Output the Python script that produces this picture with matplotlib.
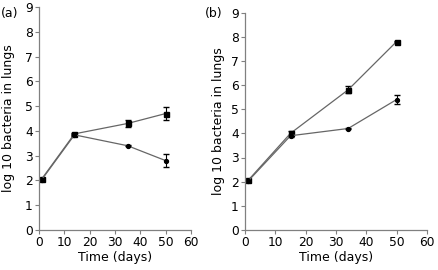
import matplotlib.pyplot as plt

plt.rcParams['font.family'] = ['DejaVu Sans']

# panel (a)
days_a = [1, 14, 35, 50]
sq_a = [2.05, 3.88, 4.3, 4.7]
sq_a_err = [0.05, 0.05, 0.15, 0.25]
ci_a = [2.02, 3.84, 3.4, 2.8]
ci_a_err = [0.05, 0.05, 0.03, 0.25]

# panel (b)
days_b = [1, 15, 34, 50]
sq_b = [2.05, 4.0, 5.8, 7.8]
sq_b_err = [0.07, 0.1, 0.15, 0.04]
ci_b = [2.02, 3.9, 4.2, 5.4]
ci_b_err = [0.05, 0.05, 0.03, 0.2]

fig = plt.figure(figsize=(4.38, 2.70), dpi=100)
W, H = 438, 270
ax_a = fig.add_axes([39 / W, 1 - 230 / H, 152 / W, 223 / H])
ax_b = fig.add_axes([245 / W, 1 - 230 / H, 182 / W, 217.5 / H])

panels = [(ax_a, days_a, sq_a, sq_a_err, ci_a, ci_a_err, -24 / 152),
          (ax_b, days_b, sq_b, sq_b_err, ci_b, ci_b_err, -20 / 182)]

for ax, d, s, se, c, ce, lx in panels:
    ax.errorbar(d, s, yerr=se, color='#666666', lw=0.9, marker='s', ms=3.6,
                mfc='black', mec='black', ecolor='black', elinewidth=0.8, capsize=2)
    ax.errorbar(d, c, yerr=ce, color='#666666', lw=0.9, marker='o', ms=2.8,
                mfc='black', mec='black', ecolor='black', elinewidth=0.8, capsize=2)
    ax.set_xlim(0, 60)
    ax.set_ylim(0, 9)
    ax.set_xticks(range(0, 61, 10))
    ax.set_yticks(range(0, 10))
    ax.spines['top'].set_visible(False)
    ax.spines['right'].set_visible(False)
    for sp in ('left', 'bottom'):
        ax.spines[sp].set_color('#808080')
        ax.spines[sp].set_linewidth(0.9)
    ax.tick_params(direction='out', length=3, width=0.8, colors='#808080',
                   labelcolor='black', labelsize=8.8, pad=1.5)
    ax.set_xlabel('Time (days)', fontsize=9, labelpad=1)
    ax.set_ylabel('log 10 bacteria in lungs', fontsize=9)
    ax.yaxis.set_label_coords(lx, 0.5)

fig.text(1 / W, 1 - 13 / H, '(a)', fontsize=9, va='center', ha='left')
fig.text(205 / W, 1 - 13 / H, '(b)', fontsize=9, va='center', ha='left')

fig.savefig('out.png', dpi=100)
